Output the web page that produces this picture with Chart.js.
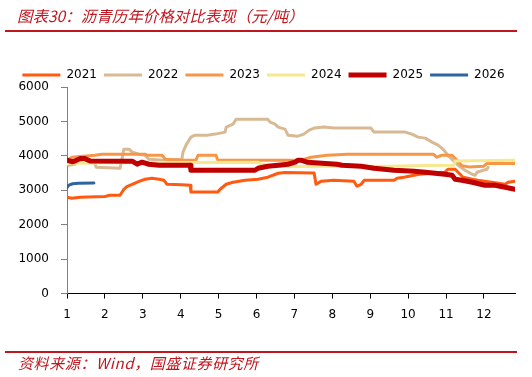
<!DOCTYPE html>
<html>
<head>
<meta charset="utf-8">
<script src="https://cdn.jsdelivr.net/npm/chart.js@4/dist/chart.umd.min.js"></script>
<style>
  body { margin: 0; background: #fff; }
  #wrap { position: relative; width: 532px; height: 377px; overflow: hidden; }
  #chart { position: absolute; left: 0; top: 0; }
  .red { color: #c0161e; font-family: "Noto Sans CJK SC", sans-serif; font-style: italic; position: absolute; white-space: nowrap; }
  #title { left: 17px; top: 4px; font-size: 15.5px; }
  #foot { left: 18px; top: 352px; font-size: 15px; letter-spacing: 0.6px; }
  .rule { position: absolute; left: 5px; width: 512px; background: #c0161e; }
</style>
</head>
<body>
<div id="wrap">
  <canvas id="chart" width="532" height="377"></canvas>
  <div class="red" id="title">图表30：沥青历年价格对比表现（元/吨）</div>
  <div class="rule" style="top:30px;height:2px"></div>
  <div class="rule" style="top:351px;height:1.5px"></div>
  <div class="red" id="foot">资料来源：Wind，国盛证券研究所</div>
</div>
<script>
// [month position, price]
const years = ["2021", "2022", "2023", "2024", "2025", "2026"];
const colors = ["#ff5a0f", "#d9b993", "#f79646", "#f6e88e", "#c00000", "#2e64a0"];
const widths = [3, 3, 3, 3, 5, 3];
const xTicks = [1, 2, 3, 4, 5, 6, 7, 8, 9, 10, 11, 12];

const p2021 = [[1.0, 2800], [1.13, 2770], [1.34, 2800], [2.0, 2820], [2.13, 2855], [2.4, 2855], [2.5, 3030], [2.58, 3110], [2.72, 3175], [2.9, 3260], [3.06, 3320], [3.24, 3350], [3.43, 3320], [3.56, 3290], [3.64, 3175], [4.03, 3160], [4.25, 3150], [4.27, 2950], [4.98, 2950], [5.04, 3030], [5.2, 3175], [5.38, 3233], [5.7, 3290], [6.04, 3320], [6.3, 3380], [6.57, 3495], [6.75, 3520], [7.52, 3500], [7.57, 3175], [7.7, 3260], [8.04, 3290], [8.57, 3262], [8.65, 3117], [8.76, 3175], [8.84, 3290], [9.63, 3290], [9.71, 3350], [9.89, 3380], [10.16, 3437], [10.31, 3466], [10.97, 3524], [11.05, 3612], [11.24, 3612], [11.45, 3380], [11.69, 3320], [11.84, 3290], [12.56, 3175], [12.64, 3233], [12.82, 3262]];
const p2022 = [[1.0, 3750], [1.05, 3728], [1.21, 3757], [1.34, 3845], [1.47, 3900], [1.71, 3850], [1.77, 3670], [2.4, 3641], [2.45, 3903], [2.5, 4195], [2.64, 4195], [2.72, 4107], [2.9, 4049], [3.06, 4020], [3.16, 3903], [3.59, 3874], [4.03, 3903], [4.06, 4107], [4.14, 4311], [4.27, 4544], [4.38, 4602], [4.72, 4602], [4.91, 4632], [5.17, 4690], [5.2, 4836], [5.38, 4923], [5.46, 5060], [6.3, 5060], [6.36, 4981], [6.49, 4923], [6.57, 4836], [6.75, 4777], [6.83, 4602], [7.09, 4573], [7.25, 4632], [7.39, 4748], [7.52, 4806], [7.78, 4836], [8.04, 4806], [9.02, 4806], [9.1, 4690], [9.92, 4690], [10.1, 4632], [10.26, 4544], [10.45, 4515], [10.63, 4398], [10.79, 4311], [10.92, 4195], [11.05, 4020], [11.18, 3874], [11.32, 3728], [11.5, 3583], [11.69, 3466], [11.77, 3437], [11.82, 3524], [11.98, 3583], [12.08, 3612], [12.11, 3670]];
const p2023 = [[1.0, 3874], [1.13, 3961], [1.74, 4020], [1.92, 4049], [3.06, 4049], [3.11, 4020], [3.51, 4020], [3.59, 3903], [4.03, 3874], [4.4, 3874], [4.46, 4020], [4.93, 4020], [4.98, 3874], [7.17, 3874], [7.44, 3961], [7.86, 4020], [8.39, 4049], [10.66, 4049], [10.76, 3961], [10.89, 4020], [11.16, 4020], [11.29, 3874], [11.42, 3710], [11.6, 3680], [12.0, 3700], [12.08, 3780], [12.82, 3780]];
const p2024 = [[1.0, 3780], [2.0, 3800], [4.0, 3810], [6.04, 3816], [6.12, 3757], [6.6, 3690], [9.5, 3700], [10.5, 3720], [11.2, 3730], [11.24, 3850], [12.82, 3874]];
const p2025 = [[1.0, 3880], [1.13, 3830], [1.21, 3850], [1.34, 3920], [1.47, 3920], [1.61, 3850], [2.72, 3845], [2.85, 3760], [2.98, 3816], [3.16, 3757], [3.43, 3728], [4.25, 3728], [4.27, 3583], [5.96, 3583], [6.04, 3641], [6.3, 3700], [6.57, 3728], [6.83, 3757], [7.02, 3816], [7.09, 3874], [7.17, 3874], [7.33, 3816], [8.12, 3757], [8.26, 3728], [8.76, 3700], [9.1, 3641], [9.63, 3583], [10.16, 3553], [10.45, 3524], [10.97, 3466], [11.16, 3437], [11.24, 3320], [11.42, 3290], [11.69, 3233], [12.03, 3146], [12.29, 3146], [12.56, 3088], [12.82, 3030]];
const p2026 = [[1.0, 3080], [1.05, 3150], [1.15, 3190], [1.3, 3204], [1.71, 3210]];

const series = [p2021, p2022, p2023, p2024, p2025, p2026];

const datasets = series.map((pts, i) => ({
  label: years[i],
  data: pts.map(([x, y]) => ({x, y})),
  borderColor: colors[i],
  backgroundColor: colors[i],
  borderWidth: widths[i],
  pointRadius: 0,
  tension: 0,
  borderJoinStyle: "round",
  borderCapStyle: "round",
  order: series.length - i, // later years drawn on top, like the original
}));

const tickFont = {family: "DejaVu Sans", size: 12};

// nudge the legend a little to where the original has it
const legendShift = {
  id: "legendShift",
  afterLayout(chart) {
    const lg = chart.legend;
    lg.left += 6;
    lg.right += 6;
    lg.top += 4;
    lg.bottom += 4;
  },
};

new Chart(document.getElementById("chart"), {
  type: "line",
  data: {datasets},
  plugins: [legendShift],
  options: {
    responsive: false,
    animation: false,
    layout: {padding: {left: 0, right: 17, top: 58, bottom: 46}},
    plugins: {
      tooltip: {enabled: false},
      legend: {
        position: "top",
        labels: {
          usePointStyle: true,
          pointStyle: "line",
          pointStyleWidth: 38,
          padding: 7,
          color: "#000",
          font: tickFont,
          sort: (a, b) => a.datasetIndex - b.datasetIndex,
        },
      },
    },
    scales: {
      x: {
        type: "linear",
        min: 1,
        max: 12.82,
        afterBuildTicks: (scale) => {
          scale.ticks = xTicks.map((v) => ({value: v}));
        },
        grid: {drawOnChartArea: false, tickLength: 5, color: "#000"},
        border: {color: "#000"},
        ticks: {color: "#000", font: tickFont, padding: 9, maxRotation: 0},
      },
      y: {
        min: 0,
        max: 6000,
        afterFit: (scale) => {
          scale.width = 67;
        },
        grid: {drawOnChartArea: false, tickLength: 6, color: "#808080"},
        border: {color: "#808080"},
        ticks: {
          stepSize: 1000,
          color: "#000",
          font: tickFont,
          padding: 12,
          callback: (v) => String(v),
        },
      },
    },
  },
});
</script>
</body>
</html>
